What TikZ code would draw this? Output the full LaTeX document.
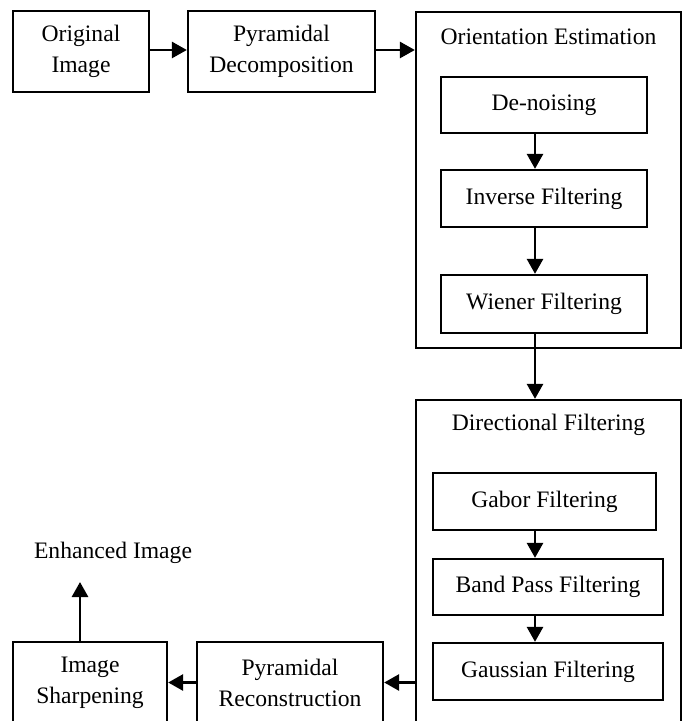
\documentclass[tikz,border=0pt]{standalone}
\usepackage{fontspec}
\setmainfont{Liberation Serif}
\usetikzlibrary{arrows.meta}
\begin{document}
\begin{tikzpicture}[x=0.5pt,y=-0.5pt,
  every node/.style={font=\fontsize{11.8}{15.5}\selectfont, inner sep=0pt, align=center},
  box/.style={draw, line width=1.15pt},
  group/.style={draw, line width=1.15pt},
  title/.style={},
  flow/.style={line width=1.4pt, -{Triangle[length=7.5pt,width=8pt]}}]
  \useasboundingbox (0,0) rectangle (686,721);
  \clip (0,0) rectangle (686,721);

  % top row
  \node[box, minimum width=68pt, minimum height=40.5pt] (orig) at (81,51.5) {Original\\Image};
  \node[box, minimum width=93.5pt, minimum height=40.5pt] (pdec) at (281.5,51.5) {Pyramidal\\Decomposition};

  % orientation estimation group
  \node[group, minimum width=132.5pt, minimum height=168pt] (orient) at (548.5,180) {};
  \node[title] (orientT) at (548.5,37) {Orientation Estimation};
  \node[box, minimum width=103pt, minimum height=28pt] (denoise) at (544,105) {De-noising};
  \node[box, minimum width=103pt, minimum height=28.5pt] (inverse) at (544,198.5) {Inverse Filtering};
  \node[box, minimum width=103pt, minimum height=29pt] (wiener) at (544,304) {Wiener Filtering};

  % directional filtering group
  \node[group, minimum width=132.5pt, minimum height=180pt] (dir) at (548.5,580) {};
  \node[title] (dirT) at (548.5,425) {Directional Filtering};
  \node[box, minimum width=111.5pt, minimum height=28.5pt] (gabor) at (544.5,501.5) {Gabor Filtering};
  \node[box, minimum width=115pt, minimum height=28pt] (band) at (548,587) {Band Pass Filtering};
  \node[box, minimum width=115pt, minimum height=28.5pt] (gauss) at (548,671.5) {Gaussian Filtering};

  % bottom row
  \node[box, minimum width=93pt, minimum height=40.5pt] (precon) at (290,682.5) {Pyramidal\\Reconstruction};
  \node[box, minimum width=77pt, minimum height=40.5pt] (sharp) at (90,682.5) {Image\\Sharpening};
  \node (enh) at (113,553) {Enhanced Image};
  \coordinate (enhIn) at (80,582);

  % connector anchor points
  \coordinate (rowTop) at (0,50);
  \coordinate (wout) at ([xshift=-4.5pt]wiener.south);

  % connectors
  \draw[flow] (orig.east |- rowTop) -- (pdec.west |- rowTop);
  \draw[flow] (pdec.east |- rowTop) -- (orient.west |- rowTop);
  \draw[flow] ([xshift=-4.5pt]denoise.south) -- ([xshift=-4.5pt]inverse.north);
  \draw[flow] ([xshift=-4.5pt]inverse.south) -- ([xshift=-4.5pt]wiener.north);
  \draw[flow] (wout) -- (wout |- dir.north);
  \draw[flow] ([xshift=-4.75pt]gabor.south) -- ([xshift=-6.5pt]band.north);
  \draw[flow] ([xshift=-6.5pt]band.south) -- ([xshift=-6.5pt]gauss.north);
  \draw[flow] (precon.east -| dir.west) -- (precon.east);
  \draw[flow] (precon.west) -- (sharp.east);
  \draw[flow] ([xshift=-5pt]sharp.north) -- (enhIn);
\end{tikzpicture}
\end{document}
